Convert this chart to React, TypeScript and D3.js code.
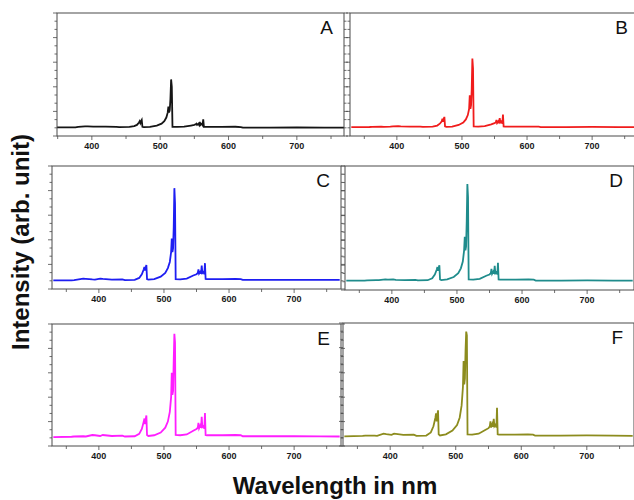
import React from 'react';
import * as d3 from 'd3';

// wavelength grid shared by all six spectra (nm)
const wavelengths = [
  330, 358, 362, 376, 380, 390, 394, 402, 406, 420, 436, 440, 455, 462, 466, 469, 470, 471, 472, 473,
  474, 476, 485, 495, 502, 506, 509, 511, 512, 513, 514, 515, 516, 517, 518, 525, 535, 545, 550, 552,
  553, 554, 556, 557, 558, 559, 561, 562, 563, 564, 566, 590, 610, 618, 621, 660, 700, 740, 770,
];

// intensities (arb. unit, fraction of panel height)
const seriesA = [
  0.07, 0.07, 0.07, 0.07, 0.075, 0.078, 0.078, 0.077, 0.077, 0.076, 0.074, 0.072, 0.074, 0.08, 0.09, 0.11, 0.12, 0.105, 0.12, 0.13,
  0.075, 0.072, 0.074, 0.085, 0.1, 0.12, 0.15, 0.19, 0.24, 0.19, 0.21, 0.3, 0.46, 0.4, 0.075, 0.074, 0.076, 0.085, 0.09, 0.095,
  0.1, 0.09, 0.1, 0.09, 0.115, 0.09, 0.1, 0.09, 0.135, 0.075, 0.074, 0.074, 0.075, 0.073, 0.068, 0.068, 0.069, 0.068, 0.068,
];
const seriesB = [
  0.072, 0.073, 0.074, 0.075, 0.074, 0.076, 0.078, 0.08, 0.078, 0.076, 0.076, 0.074, 0.076, 0.085, 0.1, 0.12, 0.14, 0.115, 0.14, 0.155,
  0.078, 0.074, 0.077, 0.09, 0.11, 0.135, 0.17, 0.22, 0.33, 0.22, 0.25, 0.38, 0.63, 0.55, 0.078, 0.076, 0.08, 0.095, 0.105, 0.11,
  0.13, 0.105, 0.12, 0.105, 0.145, 0.11, 0.12, 0.1, 0.175, 0.078, 0.076, 0.076, 0.077, 0.076, 0.072, 0.072, 0.074, 0.072, 0.072,
];
const seriesC = [
  0.07, 0.07, 0.072, 0.084, 0.083, 0.078, 0.077, 0.085, 0.082, 0.076, 0.078, 0.072, 0.075, 0.09, 0.12, 0.16, 0.18, 0.15, 0.175, 0.195,
  0.08, 0.076, 0.08, 0.1, 0.13, 0.17, 0.22, 0.3, 0.41, 0.3, 0.33, 0.5, 0.82, 0.7, 0.08, 0.078, 0.085, 0.11, 0.12, 0.13,
  0.16, 0.125, 0.14, 0.125, 0.19, 0.13, 0.14, 0.12, 0.21, 0.082, 0.08, 0.08, 0.082, 0.08, 0.074, 0.074, 0.075, 0.074, 0.074,
];
const seriesD = [
  0.075, 0.076, 0.078, 0.08, 0.08, 0.085, 0.084, 0.086, 0.082, 0.08, 0.082, 0.077, 0.079, 0.095, 0.125, 0.165, 0.185, 0.155, 0.18, 0.2,
  0.085, 0.08, 0.085, 0.105, 0.135, 0.175, 0.23, 0.32, 0.43, 0.32, 0.35, 0.55, 0.855, 0.75, 0.085, 0.083, 0.09, 0.115, 0.125, 0.135,
  0.17, 0.13, 0.15, 0.13, 0.195, 0.135, 0.145, 0.125, 0.22, 0.085, 0.083, 0.083, 0.085, 0.083, 0.076, 0.076, 0.078, 0.076, 0.076,
];
const seriesE = [
  0.072, 0.076, 0.078, 0.08, 0.078, 0.09, 0.088, 0.082, 0.09, 0.082, 0.085, 0.078, 0.08, 0.1, 0.14, 0.2, 0.225, 0.18, 0.22, 0.25,
  0.09, 0.082, 0.088, 0.11, 0.15, 0.2, 0.28, 0.4, 0.6, 0.42, 0.45, 0.7, 0.92, 0.85, 0.09, 0.088, 0.095, 0.125, 0.14, 0.15,
  0.19, 0.145, 0.17, 0.15, 0.24, 0.155, 0.165, 0.14, 0.27, 0.09, 0.088, 0.088, 0.09, 0.088, 0.08, 0.08, 0.08, 0.079, 0.078,
];
const seriesF = [
  0.078, 0.082, 0.085, 0.084, 0.083, 0.1, 0.096, 0.09, 0.1, 0.09, 0.092, 0.082, 0.085, 0.11, 0.16, 0.23, 0.265, 0.2, 0.25, 0.29,
  0.095, 0.086, 0.095, 0.125, 0.17, 0.23, 0.33, 0.48, 0.69, 0.5, 0.55, 0.78, 0.93, 0.9, 0.095, 0.092, 0.1, 0.13, 0.145, 0.16,
  0.2, 0.15, 0.18, 0.155, 0.22, 0.16, 0.175, 0.15, 0.31, 0.095, 0.092, 0.092, 0.095, 0.092, 0.085, 0.085, 0.086, 0.084, 0.083,
];

const panelLabels = ['A', 'B', 'C', 'D', 'E', 'F'];
const xTickLabels = [400, 500, 600, 700];

const FONT = "'Liberation Sans', Arial, Helvetica, sans-serif";

// panel boxes (layout) and colours
const panels = [
  { x: 57, y: 13, w: 287, h: 123, dom: [349, 769], color: '#151515', values: seriesA },
  { x: 350, y: 13, w: 289, h: 123, dom: [328, 772], color: '#f01c1c', values: seriesB },
  { x: 52, y: 166, w: 289, h: 123, dom: [328, 772], color: '#1e1ef2', values: seriesC },
  { x: 345, y: 166, w: 289, h: 124, dom: [328, 772], color: '#1f8c8c', values: seriesD },
  { x: 52, y: 324, w: 289, h: 122, dom: [328, 772], color: '#ff1eff', values: seriesE },
  { x: 343, y: 323, w: 291, h: 123, dom: [328, 772], color: '#8c8c1e', values: seriesF },
];

const Panel = ({ p, label, idx }) => {
  const x = d3.scaleLinear().domain(p.dom).range([p.x, p.x + p.w]);
  const y = d3.scaleLinear().domain([0, 1]).range([p.y + p.h, p.y]);
  const pts = wavelengths.map((w, i) => [w, p.values[i]]);
  const line = d3
    .line()
    .x((d) => x(d[0]))
    .y((d) => y(d[1]));
  const minorX = d3.range(350, 800, 50).filter((v) => v > p.dom[0] && v < p.dom[1]);
  const yTicks = d3.range(0, 16);
  const clipId = `clip-${idx}`;
  const frame = '#4a4a4a';
  return (
    <g>
      <clipPath id={clipId}>
        <rect x={p.x} y={p.y} width={p.w} height={p.h} />
      </clipPath>
      <path d={line(pts)} fill="none" stroke={p.color} strokeWidth={1.8} clipPath={`url(#${clipId})`} />
      <rect x={p.x} y={p.y} width={p.w} height={p.h} fill="none" stroke={frame} strokeWidth={1} />
      {yTicks.map((t) => {
        const yy = y(t / 15);
        const len = t % 3 === 0 ? 4 : 2.5;
        return (
          <g key={t}>
            <line x1={p.x - len} x2={p.x} y1={yy} y2={yy} stroke={frame} strokeWidth={0.8} />
            <line x1={p.x + p.w} x2={p.x + p.w + len} y1={yy} y2={yy} stroke={frame} strokeWidth={0.8} />
          </g>
        );
      })}
      {minorX.map((v) => (
        <line
          key={v}
          x1={x(v)}
          x2={x(v)}
          y1={p.y + p.h}
          y2={p.y + p.h + (v % 100 === 0 ? 4 : 3)}
          stroke={frame}
          strokeWidth={0.8}
        />
      ))}
      {xTickLabels.map((v) => (
        <text
          key={v}
          x={x(v)}
          y={p.y + p.h + 13}
          textAnchor="middle"
          fontSize={9}
          fontWeight="bold"
          fill="#1a1a1a"
          fontFamily={FONT}
        >
          {v}
        </text>
      ))}
      <text x={p.x + p.w - 11} y={p.y + 21} textAnchor="end" fontSize={19} fill="#111" fontFamily={FONT}>
        {label}
      </text>
    </g>
  );
};

export default function App() {
  return (
    <svg
      width={634}
      height={500}
      style={{ position: 'absolute', left: 0, top: 0, background: '#fff' }}
    >
      {panels.map((p, i) => (
        <Panel key={i} p={p} label={panelLabels[i]} idx={i} />
      ))}
      <text
        transform="translate(29,242) rotate(-90)"
        textAnchor="middle"
        fontSize={24}
        fontWeight="bold"
        fill="#111"
        fontFamily={FONT}
      >
        Intensity (arb. unit)
      </text>
      <text x={335} y={494} textAnchor="middle" fontSize={24} fontWeight="bold" fill="#111" fontFamily={FONT}>
        Wavelength in nm
      </text>
    </svg>
  );
}
